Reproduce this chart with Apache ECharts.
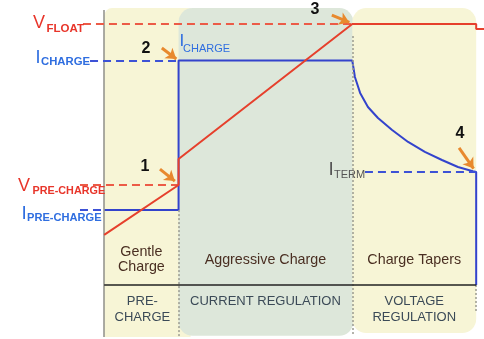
<!DOCTYPE html>
<html><head><meta charset="utf-8">
<script src="https://cdn.jsdelivr.net/npm/echarts@6/dist/echarts.min.js"></script>
<style>html,body{margin:0;padding:0;background:#fff}#c{width:484px;height:339px}</style>
</head><body><div id="c"></div>
<script>
// ---------- data ----------
const phaseNames = ['Gentle\nCharge', 'Aggressive Charge', 'Charge Tapers'];
const phaseModes = ['PRE-\nCHARGE', 'CURRENT REGULATION', 'VOLTAGE\nREGULATION'];
const phaseStart = [0, 20, 66.7];
const phaseEnd = [20, 66.7, 100];

const V_FLOAT = 100, I_CHARGE = 86, V_PRE = 38.3, I_PRE = 28.7, I_TERM = 43.3;

const vbatTime  = [0, 20, 20, 66.7, 100, 100, 102.1];
const vbatLevel = [19.2, 38.3, 48.3, 100, 100, 98.1, 98.1];

const ichgTime  = [0, 20, 20, 66.7, 67.4, 68.8, 70.9, 73.6, 77.4, 81.7, 86.2, 90.8, 95.1, 99.1, 100, 100];
const ichgLevel = [28.7, 28.7, 86, 86, 79.7, 73.6, 68.2, 64.0, 59.4, 54.8, 51.0, 47.9, 45.2, 43.6, 43.3, 0];

const markerNums = ['1', '2', '3', '4'];

// ---------- layout / style ----------
const FONT = "'Liberation Sans', Arial, sans-serif";
const RED = '#e6402c', BLUE = '#3343cc', REDD = '#ec5b47', BLUED = '#3d52d6';
const LRED = '#e8352a', LBLUE = '#2f6ee0';
const ORANGE = '#e8892e';
const bgColors = ['#f7f5d6', '#dde7da', '#f7f5d6'];
const bgRadius = [[8, 0, 0, 0], [14, 14, 14, 14], [14, 14, 14, 14]];
const bgExtraRight = [12, 1, 0];
const bgTop = 106.1, bgBottom = [-19.9, -19.5, -18.4];

const arrowFrom = [[15.0, 44.4], [15.5, 90.8], [61.2, 103.4], [95.4, 52.5]];
const arrowTo   = [[19.0, 39.8], [19.4, 86.6], [65.9, 100.6], [99.3, 44.6]];
const numPos = [[145, 167], [146, 49], [315, 10], [460, 134]];

function seg(a, b, style) { return [{ coord: a, lineStyle: style }, { coord: b }]; }
const dashR = { color: REDD, type: [8, 5], width: 2 };
const dashB = { color: BLUED, type: [8, 5], width: 2 };
const dot = { color: '#9a9a90', type: [2, 2], width: 1.5 };

const levelLines = [
  seg([-5.7, V_FLOAT], [phaseEnd[1], V_FLOAT], dashR),
  seg([-3.8, I_CHARGE], [phaseStart[1], I_CHARGE], dashB),
  seg([-6.5, V_PRE], [phaseStart[1], V_PRE], dashR),
  seg([-6.5, I_PRE], [phaseStart[0], I_PRE], dashB),
  seg([70.1, I_TERM], [phaseEnd[2], I_TERM], dashB)
];
const guideLines = [
  seg([phaseStart[0], 105.4], [phaseStart[0], -19.9], { color: '#8f8f88', type: 'solid', width: 1.5 }),
  seg([phaseStart[1], I_PRE], [phaseStart[1], -19.9], dot),
  seg([phaseStart[2], 95.4], [phaseStart[2], -19.5], dot),
  seg([phaseEnd[2], 0], [phaseEnd[2], -10.5], dot),
  seg([phaseStart[0], 0], [phaseEnd[2], 0], { color: '#222', type: 'solid', width: 1.5 })
];
const arrowLines = arrowFrom.map((a, i) => seg(a, arrowTo[i], { color: ORANGE, width: 3, type: 'solid' }));

function subLabel(x, y, main, sub, color, ms, ss, sx, sy, sw, subColor) {
  return [
    { type: 'text', x: x, y: y, z: 100, style: { text: main, fill: color, font: `normal ${ms}px ${FONT}`, textAlign: 'left', textVerticalAlign: 'middle', align: 'left', verticalAlign: 'middle' } },
    { type: 'text', x: sx, y: sy, z: 100, style: { text: sub, fill: subColor || color, font: `${sw} ${ss}px ${FONT}`, textAlign: 'left', textVerticalAlign: 'middle', align: 'left', verticalAlign: 'middle' } }
  ];
}

let graphics = [];
graphics = graphics.concat(subLabel(33, 23.5, 'V', 'FLOAT', LRED, 18, 11.5, 46.5, 28.5, 'bold'));
graphics = graphics.concat(subLabel(35.5, 58.5, 'I', 'CHARGE', LBLUE, 18, 11.3, 41, 62, 'bold'));
graphics = graphics.concat(subLabel(18, 186.5, 'V', 'PRE-CHARGE', LRED, 18, 10.8, 32.5, 191.5, 'bold'));
graphics = graphics.concat(subLabel(21.5, 214, 'I', 'PRE-CHARGE', LBLUE, 19, 11.1, 27, 218, 'bold'));
graphics = graphics.concat(subLabel(179.5, 41, 'I', 'CHARGE', LBLUE, 17, 11, 183, 49, 'normal'));
graphics = graphics.concat(subLabel(328.5, 170, 'I', 'TERM', '#555', 19, 11, 334, 174.5, 'normal'));
graphics.push({
  type: 'group', x: 243, y: 83, rotation: 35 * Math.PI / 180, z: 100,
  children: [
    { type: 'text', x: -5, y: 0, style: { text: 'V', fill: '#e24a38', font: `normal 17px ${FONT}`, textAlign: 'left', textVerticalAlign: 'middle', align: 'left', verticalAlign: 'middle' } },
    { type: 'text', x: 7, y: 4, style: { text: 'BAT', fill: '#e24a38', font: `normal 11px ${FONT}`, textAlign: 'left', textVerticalAlign: 'middle', align: 'left', verticalAlign: 'middle' } }
  ]
});
markerNums.forEach((n, i) => {
  graphics.push({ type: 'text', x: numPos[i][0], y: numPos[i][1], z: 100,
    style: { text: n, fill: '#111', font: `bold 16px ${FONT}`, textAlign: 'center', textVerticalAlign: 'middle', align: 'center', verticalAlign: 'middle' } });
});

const chart = echarts.init(document.getElementById('c'), null, { renderer: 'canvas' });
chart.setOption({
  animation: false,
  backgroundColor: '#ffffff',
  grid: { left: 0, right: 0, top: 0, bottom: 0 },
  xAxis: { type: 'value', min: -28, max: 102.1, show: false },
  yAxis: { type: 'value', min: -20.7, max: 109.2, show: false },
  series: [
    {
      type: 'custom', name: 'phases', silent: true, z: 1, clip: false,
      data: phaseStart.map((s, i) => [s, phaseEnd[i], i]),
      renderItem: function (params, api) {
        const i = params.dataIndex;
        const p0 = api.coord([api.value(0), bgTop]);
        const p1 = api.coord([api.value(1), bgBottom[i]]);
        const base = api.coord([(api.value(0) + api.value(1)) / 2, 0]);
        return {
          type: 'group',
          children: [
            { type: 'rect', shape: { x: p0[0], y: p0[1], width: p1[0] - p0[0] + bgExtraRight[i], height: p1[1] - p0[1], r: bgRadius[i] }, style: { fill: bgColors[i] } },
            { type: 'text', x: base[0], y: base[1] - 25, style: { text: phaseNames[i], fill: '#4a2f22', font: `normal 14.3px ${FONT}`, lineHeight: 15, textAlign: 'center', textVerticalAlign: 'middle', align: 'center', verticalAlign: 'middle' } },
            { type: 'text', x: base[0] + (i === 0 ? 1 : 0), y: base[1] + 9, style: { text: phaseModes[i], fill: '#3b4a57', font: `normal 13px ${FONT}`, lineHeight: 15.5, textAlign: 'center', textVerticalAlign: 'top', align: 'center', verticalAlign: 'top' } }
          ]
        };
      }
    },
    {
      type: 'line', name: 'guides', data: [], z: 2, silent: true,
      markLine: { silent: true, symbol: ['none', 'none'], label: { show: false }, data: guideLines, animation: false }
    },
    {
      type: 'line', name: 'levels', data: [], z: 3, silent: true,
      markLine: { silent: true, symbol: ['none', 'none'], label: { show: false }, data: levelLines, animation: false }
    },
    {
      type: 'line', name: 'I_CHG', data: ichgTime.map((t, i) => [t, ichgLevel[i]]),
      showSymbol: false, symbol: 'none', z: 4, silent: true,
      lineStyle: { color: BLUE, width: 2 }
    },
    {
      type: 'line', name: 'V_BAT', data: vbatTime.map((t, i) => [t, vbatLevel[i]]),
      showSymbol: false, symbol: 'none', z: 5, silent: true,
      lineStyle: { color: RED, width: 2 }
    },
    {
      type: 'line', name: 'arrows', data: [], z: 6, silent: true,
      markLine: { silent: true, symbol: ['none', 'arrow'], symbolSize: [10, 10], label: { show: false }, data: arrowLines, itemStyle: { color: ORANGE }, animation: false }
    }
  ],
  graphic: graphics
});
</script>
</body></html>
